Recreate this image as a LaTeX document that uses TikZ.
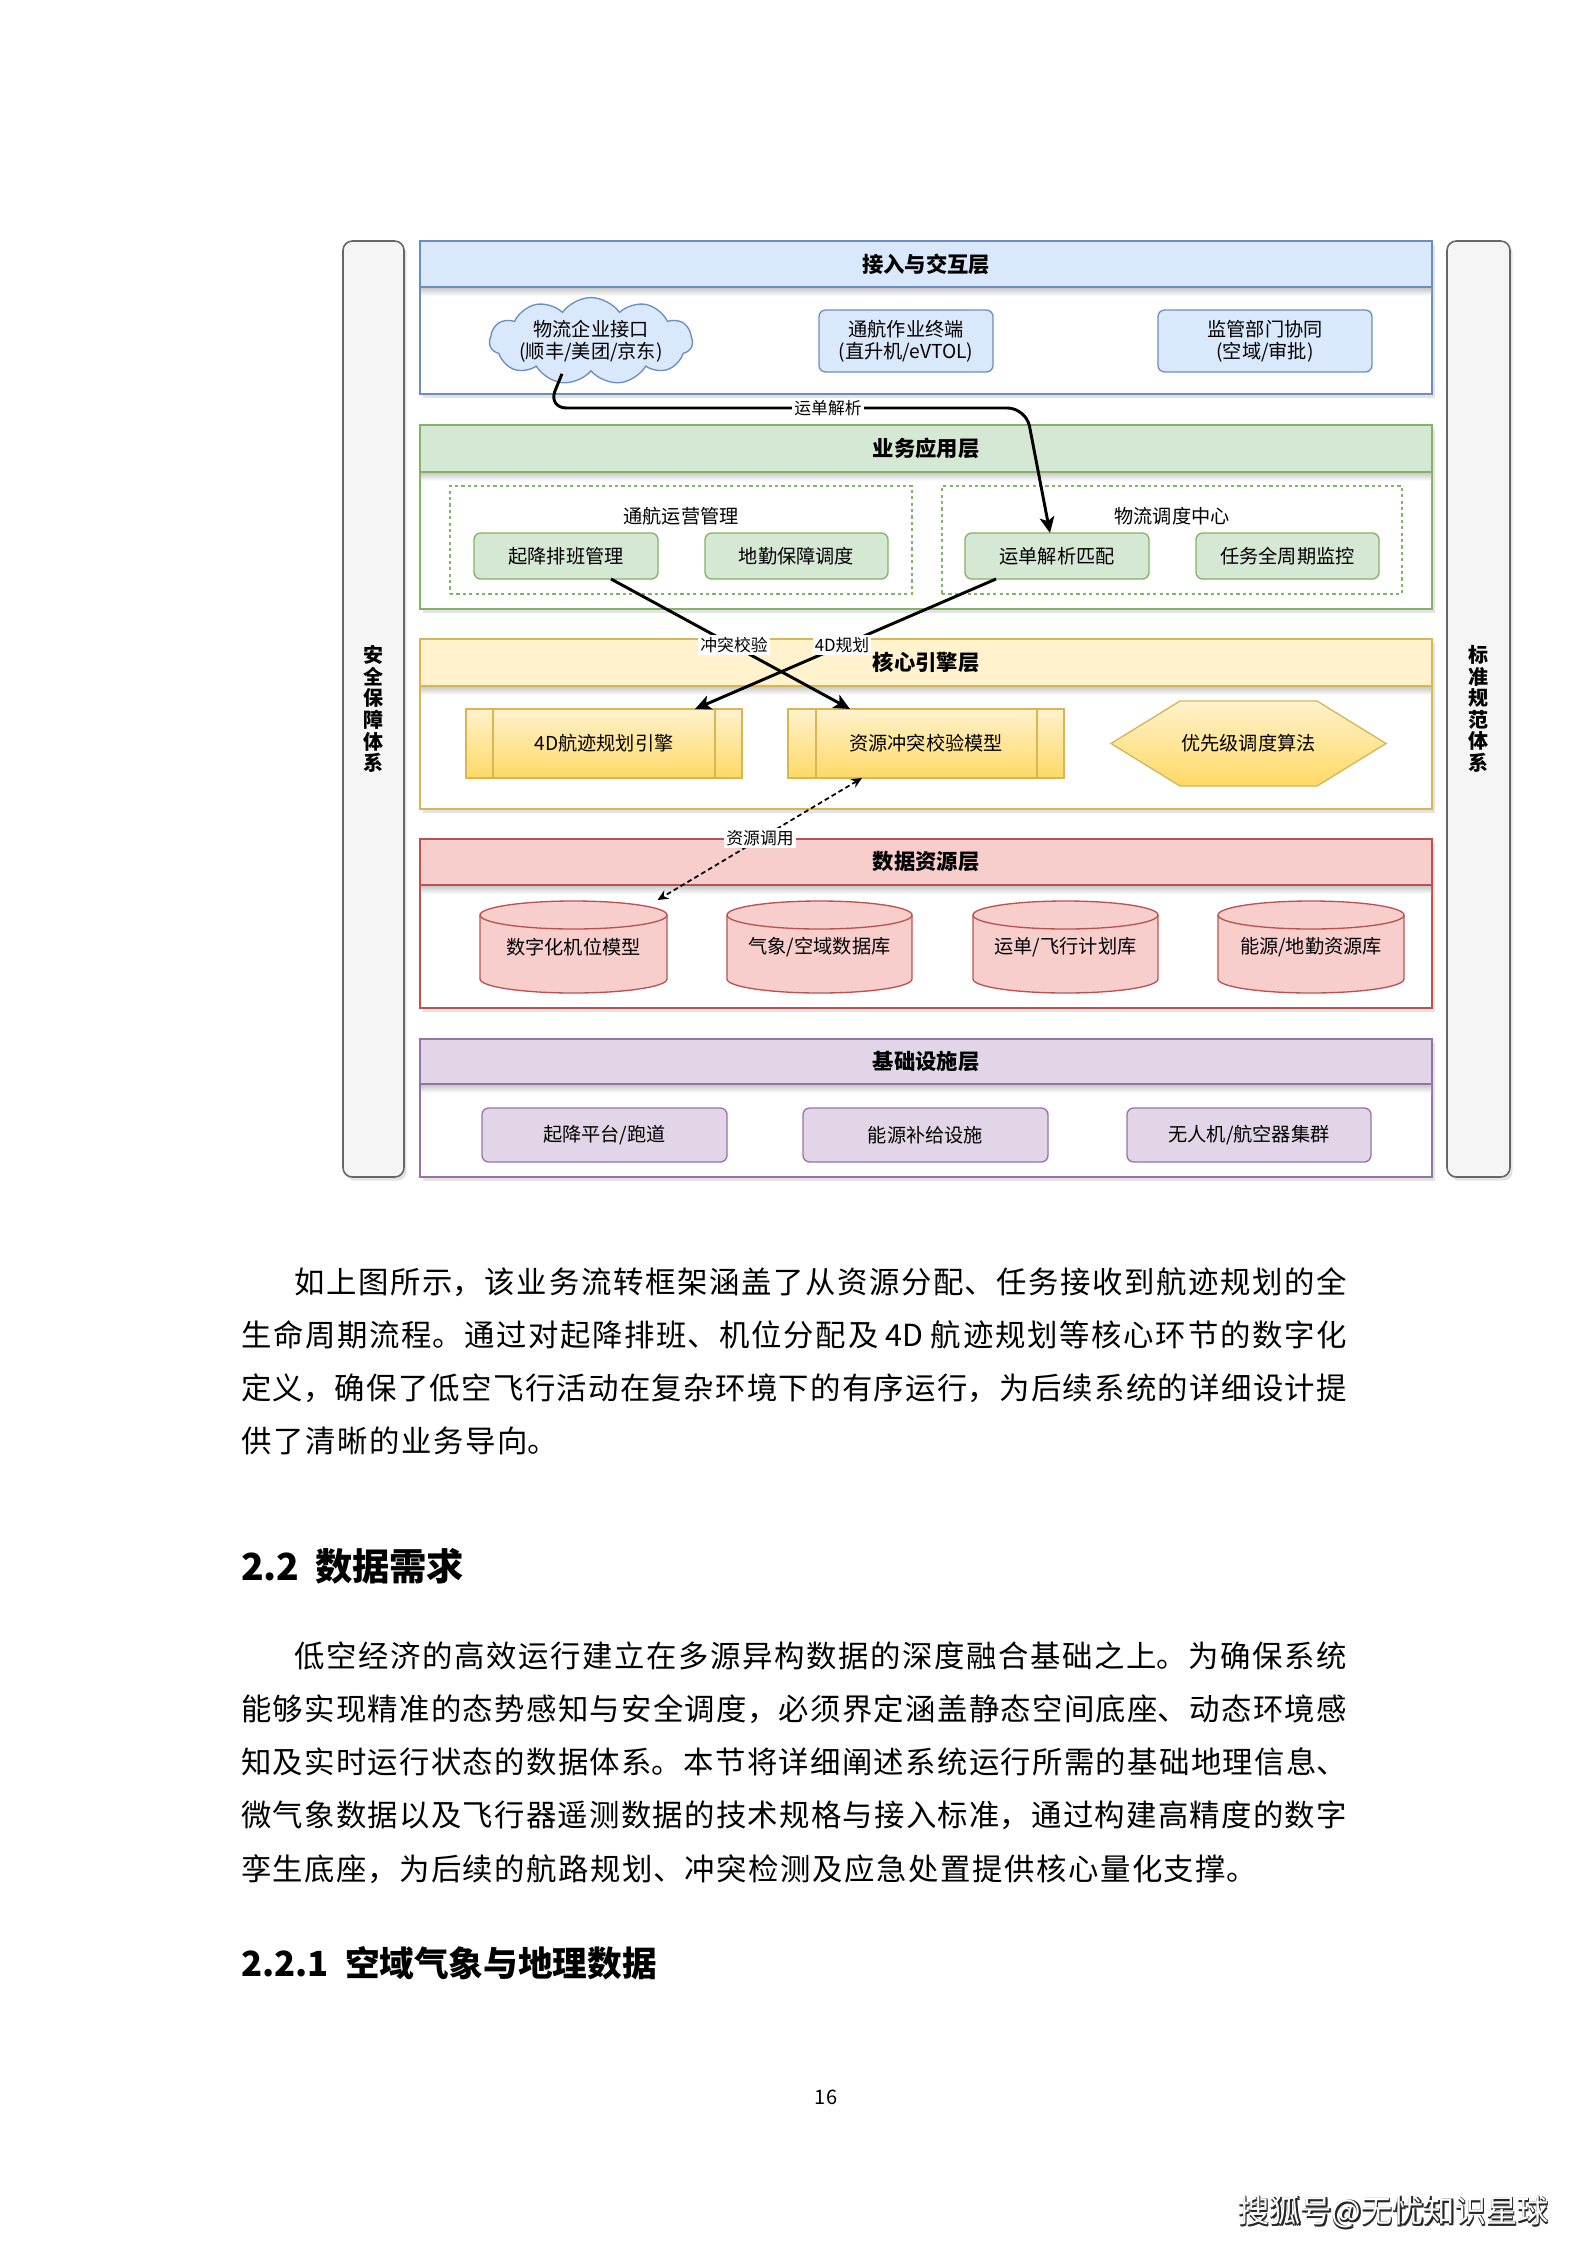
\documentclass[tikz,border=0pt]{standalone}
\usepackage{fontspec}
\setmainfont{Noto Sans CJK SC}
\usetikzlibrary{shapes.symbols,arrows.meta,calc,shadows}
\XeTeXlinebreaklocale "zh"
\XeTeXlinebreakskip=0pt plus 4pt minus 0.5pt
\definecolor{bfill}{HTML}{DAE8FC}\definecolor{bline}{HTML}{6C8EBF}
\definecolor{gfill}{HTML}{D5E8D4}\definecolor{gline}{HTML}{82B366}
\definecolor{yfill}{HTML}{FFF2CC}\definecolor{yline}{HTML}{D6B656}\definecolor{ydeep}{HTML}{FFD966}
\definecolor{rfill}{HTML}{F8CECC}\definecolor{rline}{HTML}{B85450}
\definecolor{pfill}{HTML}{E1D5E7}\definecolor{pline}{HTML}{9673A6}
\definecolor{sfill}{HTML}{F5F5F5}\definecolor{sline}{HTML}{666666}
\newcommand\mybox[7][]{\node[#1, minimum width={(#5-#3)*0.3751pt}, minimum height={(#6-#4)*0.3751pt}] (#2) at ({(#3+#5)/2},{(#4+#6)/2}) {#7};}
\newcommand\itemfont{\fontsize{7.2}{8.3}\selectfont}
\newcommand\bodyfont{\fontsize{11.4}{14}\selectfont}
\newcommand\jl[1]{\parfillskip=0pt\relax #1\par}
\newcommand\mycyl[4]{%
  \path[cylf] (#2,915) -- (#2,979) arc[start angle=180,end angle=0,x radius={(#3-#2)/2},y radius=14] -- (#3,915) arc[start angle=0,end angle=-180,x radius={(#3-#2)/2},y radius=14] -- cycle;
  \draw[draw=rline,line width=0.5pt] (#2,915) arc[start angle=180,end angle=0,x radius={(#3-#2)/2},y radius=14];
  \mybox[font=\itemfont]{#1}{#2}{901}{#3}{993}{#4}}
\tikzset{
  every node/.style={inner sep=0pt, outer sep=0pt},
  shad/.style={drop shadow={shadow xshift=1pt, shadow yshift=-1.4pt, opacity=0.22}},
  laybody/.style={draw=#1, fill=white, line width=0.6pt, shad},
  layhead/.style 2 args={draw=#2, fill=#1, line width=0.6pt, font=\fontsize{8}{9}\selectfont\bfseries},
  pillar/.style={draw=sline, fill=sfill, rounded corners=3.5pt, line width=0.6pt, align=center, font=\fontsize{7.5}{8.1}\selectfont\bfseries, shad},
  ibox/.style 2 args={draw=#2, fill=#1, rounded corners=2.5pt, line width=0.5pt, align=center, font=\itemfont},
  grp/.style={draw=gline, dash pattern=on 1.2pt off 1.2pt, line width=0.5pt},
  grplab/.style={font=\itemfont},
  proc/.style={draw=yline, top color=yfill, bottom color=ydeep, line width=0.5pt, font=\itemfont},
  hexs/.style={draw=yline, top color=yfill, bottom color=ydeep, line width=0.5pt},
  cylf/.style={fill=rfill, draw=rline, line width=0.5pt},
  flow/.style={line width=1.1pt, -{Stealth[length=6pt,width=5.5pt,inset=1.5pt]}},
  dflow/.style={line width=0.65pt, dash pattern=on 1.8pt off 1.2pt, {Stealth[length=4pt,width=3.6pt]}-{Stealth[length=4pt,width=3.6pt]}},
  lab/.style={fill=white, inner sep=0.8pt, font=\fontsize{6.3}{7}\selectfont},
  jline/.style={anchor=base west, text width=#1, align=justify, font=\bodyfont},
  headn/.style={anchor=base west, font=\fontsize{14}{16}\selectfont\bfseries},
  subheadn/.style={anchor=base west, font=\fontsize{13}{15}\selectfont\bfseries},
  wmk/.style={font=\fontsize{11.7}{13}\selectfont, text=#1},
}
\begin{document}
\begin{tikzpicture}[x=0.3751pt, y=-0.3751pt]
\useasboundingbox (0,0) rectangle (1587,2245);
\fill[white] (0,0) rectangle (1587,2245);

% side pillars
\mybox[pillar]{SL}{343}{241}{404}{1177}{安\\全\\保\\障\\体\\系}
\mybox[pillar]{SR}{1447}{241}{1510}{1177}{标\\准\\规\\范\\体\\系}

% layer 1
\mybox[laybody=bline]{B1}{420}{241}{1432}{394}{}
\shade[top color=black!22, bottom color=white] (421,287.5) rectangle (1431,296);
\mybox[layhead={bfill}{bline}]{H1}{420}{241}{1432}{287}{接入与交互层}
\node[cloud, cloud puffs=11, cloud puff arc=110, cloud ignores aspect, draw=bline, fill=bfill, line width=0.5pt, minimum width={193*0.3751pt}, minimum height={67*0.3751pt}, align=center, font=\itemfont] (cloud) at (591,341) {物流企业接口\\(顺丰/美团/京东)};
\mybox[ibox={bfill}{bline}]{thzy}{819}{310}{993}{372}{通航作业终端\\(直升机/eVTOL)}
\mybox[ibox={bfill}{bline}]{jgbm}{1158}{310}{1372}{372}{监管部门协同\\(空域/审批)}

% layer 2
\mybox[laybody=gline]{B2}{420}{425}{1432}{609}{}
\shade[top color=black!22, bottom color=white] (421,472.5) rectangle (1431,481);
\mybox[layhead={gfill}{gline}]{H2}{420}{425}{1432}{472}{业务应用层}
\mybox[grp]{G1}{450}{486}{912}{594}{}
\mybox[grp]{G2}{942}{486}{1402}{594}{}
\node[grplab] (g1l) at (681,516) {通航运营管理};
\node[grplab] (g2l) at (1172,516) {物流调度中心};
\mybox[ibox={gfill}{gline}]{qjpb}{474}{533}{658}{579}{起降排班管理}
\mybox[ibox={gfill}{gline}]{dqbz}{705}{533}{888}{579}{地勤保障调度}
\mybox[ibox={gfill}{gline}]{ydpp}{965}{533}{1149}{579}{运单解析匹配}
\mybox[ibox={gfill}{gline}]{rwqz}{1196}{533}{1379}{579}{任务全周期监控}

% layer 3
\mybox[laybody=yline]{B3}{420}{639}{1432}{809}{}
\shade[top color=black!22, bottom color=white] (421,686.5) rectangle (1431,695);
\mybox[layhead={yfill}{yline}]{H3}{420}{639}{1432}{686}{核心引擎层}
\mybox[proc]{hj}{466}{709}{742}{778}{4D航迹规划引擎}
\mybox[proc]{zycz}{788}{709}{1064}{778}{资源冲突校验模型}
\draw[draw=yline,line width=0.5pt] ($(hj.north west)+(27,0)$) -- ($(hj.south west)+(27,0)$);
\draw[draw=yline,line width=0.5pt] ($(hj.north east)+(-27,0)$) -- ($(hj.south east)+(-27,0)$);
\draw[draw=yline,line width=0.5pt] ($(zycz.north west)+(28,0)$) -- ($(zycz.south west)+(28,0)$);
\draw[draw=yline,line width=0.5pt] ($(zycz.north east)+(-27,0)$) -- ($(zycz.south east)+(-27,0)$);
\path[hexs] (1111,743.5) -- (1180,701) -- (1317,701) -- (1386,743.5) -- (1317,786) -- (1180,786) -- cycle;
\node[font=\itemfont] (yxj) at (1248.5,743.5) {优先级调度算法};

% layer 4
\mybox[laybody=rline]{B4}{420}{839}{1432}{1008}{}
\shade[top color=black!22, bottom color=white] (421,885.5) rectangle (1431,894);
\mybox[layhead={rfill}{rline}]{H4}{420}{839}{1432}{885}{数据资源层}
\mycyl{cy1}{480}{667}{数字化机位模型}
\mycyl{cy2}{727}{912}{气象/空域数据库}
\mycyl{cy3}{973}{1158}{运单/飞行计划库}
\mycyl{cy4}{1218}{1404}{能源/地勤资源库}

% layer 5
\mybox[laybody=pline]{B5}{420}{1039}{1432}{1177}{}
\shade[top color=black!22, bottom color=white] (421,1084.5) rectangle (1431,1093);
\mybox[layhead={pfill}{pline}]{H5}{420}{1039}{1432}{1084}{基础设施层}
\mybox[ibox={pfill}{pline}]{qjpt}{482}{1108}{727}{1162}{起降平台/跑道}
\mybox[ibox={pfill}{pline}]{nybj}{803}{1108}{1048}{1162}{能源补给设施}
\mybox[ibox={pfill}{pline}]{wrj}{1127}{1108}{1371}{1162}{无人机/航空器集群}

% connectors
\draw[flow, rounded corners=7pt] ($(cloud.south)+(-29,3)$) -- (548,408) -- (1026,408) -- ($(ydpp.north)+(-7,0)$);
\node[lab] (lA) at (828,408) {运单解析};
\draw[flow] ($(qjpb.south)+(45,0)$) -- ($(zycz.north)+(-76,0)$);
\draw[flow] ($(ydpp.south)+(-61,0)$) -- ($(hj.north)+(91,0)$);
\node[lab] (lB) at (734,645) {冲突校验};
\node[lab] (lC) at (842,645) {4D规划};
\draw[dflow] ($(zycz.south)+(-64,0)$) -- ($(cy1.north)+(84,-1)$);
\node[lab] (lD) at (760,838) {资源调用};

% body text
\node[jline=414.86pt] (p1a) at (241,1293) {\jl{\hspace*{20pt}如上图所示，该业务流转框架涵盖了从资源分配、任务接收到航迹规划的全}};
\node[jline=414.86pt] (p1b) at (241,1346) {\jl{生命周期流程。通过对起降排班、机位分配及 4D 航迹规划等核心环节的数字化}};
\node[jline=414.86pt] (p1c) at (241,1399) {\jl{定义，确保了低空飞行活动在复杂环境下的有序运行，为后续系统的详细设计提}};
\node[jline=119pt] (p1d) at (241,1452) {\jl{供了清晰的业务导向。}};

\node[headn] (h22n) at (241,1580) {2.2};
\node[headn] (h22t) at (315,1580) {数据需求};

\node[jline=414.86pt] (p2a) at (241,1667) {\jl{\hspace*{20pt}低空经济的高效运行建立在多源异构数据的深度融合基础之上。为确保系统}};
\node[jline=414.86pt] (p2b) at (241,1720) {\jl{能够实现精准的态势感知与安全调度，必须界定涵盖静态空间底座、动态环境感}};
\node[jline=414.86pt] (p2c) at (241,1773) {\jl{知及实时运行状态的数据体系。本节将详细阐述系统运行所需的基础地理信息、}};
\node[jline=414.86pt] (p2d) at (241,1826) {\jl{微气象数据以及飞行器遥测数据的技术规格与接入标准，通过构建高精度的数字}};
\node[jline=381pt] (p2e) at (241,1880) {\jl{孪生底座，为后续的航路规划、冲突检测及应急处置提供核心量化支撑。}};

\node[subheadn] (h221n) at (241,1976) {2.2.1};
\node[subheadn] (h221t) at (345,1976) {空域气象与地理数据};

\node[font=\fontsize{7.5}{9}\selectfont] (pg) at (826,2097) {16};

\node[wmk=black!85] (wm1) at (1395,2214) {搜狐号@无忧知识星球};
\node[wmk=black!85] (wm2) at (1395,2212) {搜狐号@无忧知识星球};
\node[wmk=black!85] (wm3) at (1393.5,2214) {搜狐号@无忧知识星球};
\node[wmk=white] (wm5) at (1393.5,2212) {搜狐号@无忧知识星球};
\end{tikzpicture}
\end{document}
